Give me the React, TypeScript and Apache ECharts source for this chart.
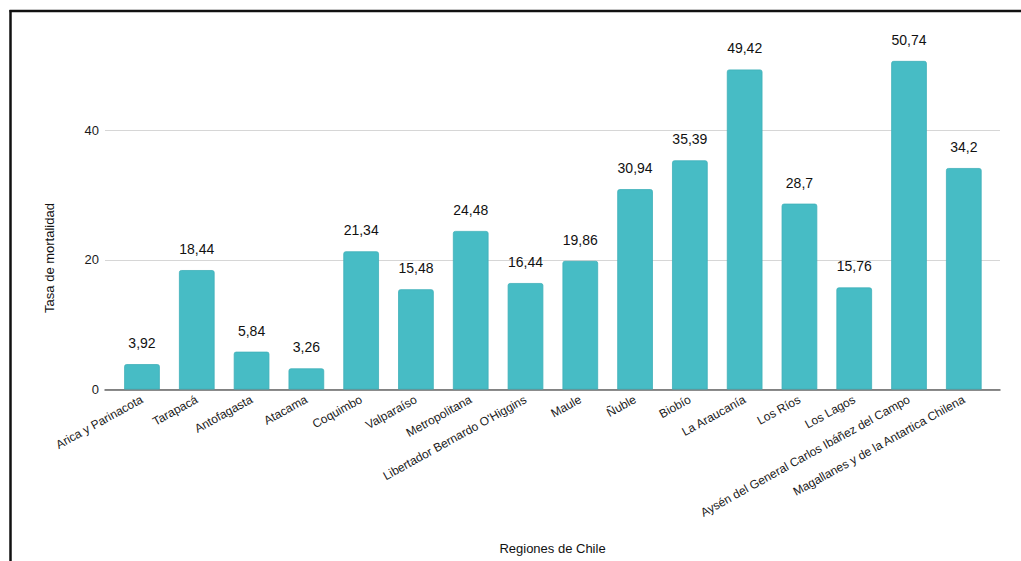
import React, { useEffect, useRef } from "react";
import * as echarts from "echarts";

const categories = [
  "Arica y Parinacota",
  "Tarapacá",
  "Antofagasta",
  "Atacama",
  "Coquimbo",
  "Valparaíso",
  "Metropolitana",
  "Libertador Bernardo O'Higgins",
  "Maule",
  "Ñuble",
  "Biobío",
  "La Araucanía",
  "Los Ríos",
  "Los Lagos",
  "Aysén del General Carlos Ibáñez del Campo",
  "Magallanes y de la Antartica Chilena",
];
const tasaMortalidad = [
  3.92, 18.44, 5.84, 3.26, 21.34, 15.48, 24.48, 16.44, 19.86, 30.94, 35.39,
  49.42, 28.7, 15.76, 50.74, 34.2,
];
const yTicks = { min: 0, max: 58.5, interval: 20 };
const xTitle = "Regiones de Chile";
const yTitle = "Tasa de mortalidad";

const FONT = "'Liberation Sans', Arial, sans-serif";

export default function App() {
  const ref = useRef<HTMLDivElement>(null);
  useEffect(() => {
    if (!ref.current) return;
    const chart = echarts.init(ref.current, undefined, { renderer: "svg" });
    const top = 10.7;
    const bottom = 171.5;
    chart.setOption({
      animation: false,
      backgroundColor: "#ffffff",
      textStyle: { fontFamily: FONT },
      grid: [
        { left: 105, right: 21, top, bottom },
        { left: 114.6, right: 29.8, top, bottom },
      ],
      xAxis: [
        {
          gridIndex: 0,
          type: "value",
          min: 0,
          max: 1,
          axisLine: { show: true, lineStyle: { color: "#666666", width: 1.5 } },
          axisTick: { show: false },
          axisLabel: { show: false },
          splitLine: { show: false },
          name: xTitle,
          nameLocation: "middle",
          nameGap: 152,
          nameTextStyle: { fontSize: 13, color: "#111111", fontFamily: FONT },
        },
        {
          gridIndex: 1,
          type: "category",
          data: categories,
          axisLine: { show: false },
          axisTick: { show: false },
          axisLabel: {
            rotate: 29,
            fontSize: 12,
            color: "#1a1a1a",
            margin: 9,
            interval: 0,
            fontFamily: FONT,
          },
        },
      ],
      yAxis: [
        {
          gridIndex: 0,
          type: "value",
          min: yTicks.min,
          max: yTicks.max,
          interval: yTicks.interval,
          axisLine: { show: false },
          axisTick: { show: false },
          axisLabel: {
            fontSize: 13,
            color: "#1a1a1a",
            margin: 6,
            showMaxLabel: false,
            fontFamily: FONT,
          },
          splitLine: {
            show: true,
            showMaxLine: false,
            lineStyle: { color: "#d6d6d6", width: 1 },
          },
        },
        {
          gridIndex: 1,
          type: "value",
          min: yTicks.min,
          max: yTicks.max,
          interval: yTicks.interval,
          show: false,
          splitLine: { show: false },
        },
      ],
      series: [
        {
          type: "bar",
          xAxisIndex: 1,
          yAxisIndex: 1,
          data: tasaMortalidad,
          barWidth: "65%",
          itemStyle: {
            color: "#47BCC5",
            borderColor: "#3FB0B9",
            borderWidth: 0.8,
            borderRadius: [2, 2, 0, 0],
          },
          label: {
            show: true,
            position: "top",
            distance: 14,
            fontSize: 14,
            color: "#111111",
            fontFamily: FONT,
            formatter: (p: any) => String(p.value).replace(".", ","),
          },
        },
      ],
      graphic: [
        {
          type: "text",
          x: 49,
          y: 258,
          rotation: Math.PI / 2,
          style: {
            text: yTitle,
            fontSize: 13,
            fill: "#111111",
            fontFamily: FONT,
            align: "center",
            verticalAlign: "middle",
          },
        },
        {
          type: "line",
          z: 100,
          shape: { x1: 9.5, y1: 11, x2: 1021, y2: 11 },
          style: { stroke: "#111111", lineWidth: 2.5 },
        },
        {
          type: "line",
          z: 100,
          shape: { x1: 10.5, y1: 10, x2: 10.5, y2: 561 },
          style: { stroke: "#111111", lineWidth: 2.5 },
        },
      ],
    });
    return () => chart.dispose();
  }, []);
  return (
    <div
      ref={ref}
      style={{
        position: "fixed",
        left: 0,
        top: 0,
        width: 1021,
        height: 561,
        background: "#ffffff",
      }}
    />
  );
}
